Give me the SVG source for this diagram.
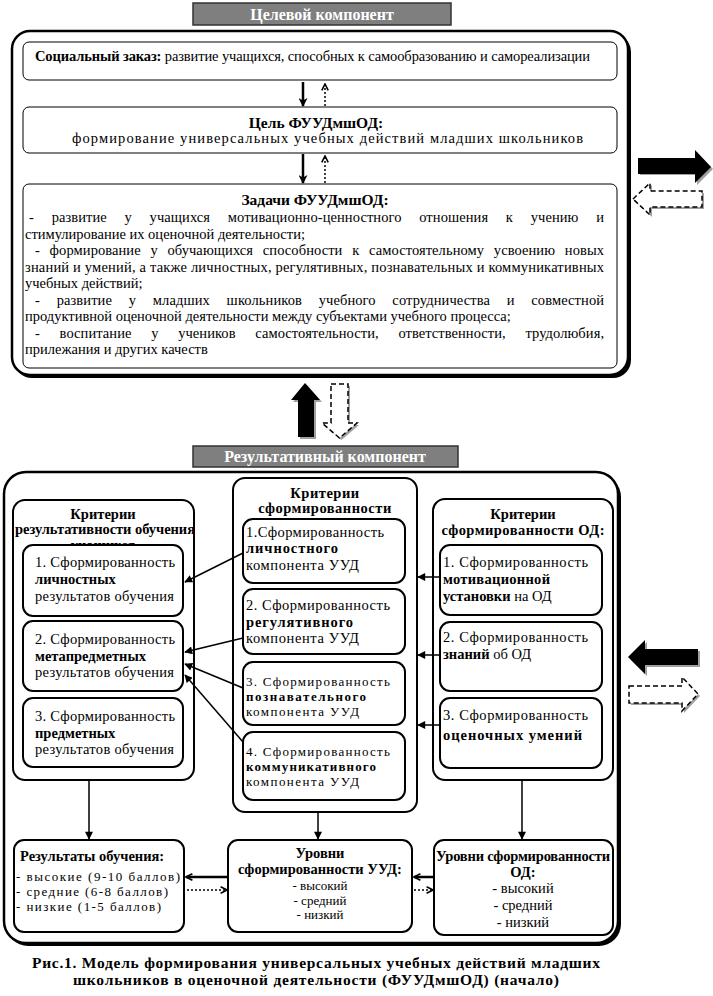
<svg xmlns="http://www.w3.org/2000/svg" width="713" height="996" viewBox="0 0 713 996">
<style>
text{font-family:"Liberation Serif","Times New Roman",serif;fill:#000;font-size:14.5px}
.b{font-weight:bold}
.m{text-anchor:middle}
.s{font-size:13px}
.box1{fill:#fff;stroke:#000;stroke-width:1}
.box2{fill:#fff;stroke:#000;stroke-width:2}
.outer{fill:#fff;stroke:#000;stroke-width:2.5}
.shadow{fill:#000}
.banner{fill:#7f7f7f;stroke:#333;stroke-width:1.5}
.bt{fill:#fff;font-weight:bold;font-size:16px;text-anchor:middle}
.c{stroke:#000;stroke-width:1.5;fill:none}
.ct{stroke:#000;stroke-width:2.5;fill:none}
.dot{stroke:#000;stroke-width:1.5;stroke-dasharray:2 2;fill:none}
.blk{fill:#000}
.sh{fill:#a0a0a0}
.dsh{fill:#fff;stroke:#000;stroke-width:1.5;stroke-dasharray:5 3}
.cap{font-weight:bold;font-size:15.5px;text-anchor:middle}
</style>
<defs>
<marker id="ah" viewBox="0 0 10 10" refX="9" refY="5" markerWidth="9" markerHeight="8" markerUnits="userSpaceOnUse" orient="auto">
<path d="M0,0 L10,5 L0,10 Z" fill="#000"/>
</marker>
<marker id="ahb" viewBox="0 0 10 10" refX="9" refY="5" markerWidth="10" markerHeight="9" markerUnits="userSpaceOnUse" orient="auto">
<path d="M0,0 L10,5 L0,10 L3,5 Z" fill="#000"/>
</marker>
<marker id="aho" viewBox="0 0 10 10" refX="9" refY="5" markerWidth="8" markerHeight="8" markerUnits="userSpaceOnUse" orient="auto">
<path d="M1,1 L9,5 L1,9" fill="none" stroke="#000" stroke-width="2"/>
</marker>
</defs>

<!-- ===== Target component ===== -->
<g id="banner-target">
<rect class="banner" x="193" y="3" width="258" height="22"/>
<text class="bt" x="322" y="20">Целевой компонент</text>
</g>

<g id="target-component">
<rect class="shadow" x="14" y="34" width="617" height="344" rx="18"/>
<rect class="outer" x="12" y="31" width="616" height="344" rx="18"/>
</g>

<g id="social-order">
<rect class="box1" x="23" y="42" width="594" height="38" rx="6"/>
<text x="35" y="61" textLength="555" lengthAdjust="spacing"><tspan class="b">Социальный заказ:</tspan> развитие учащихся, способных к самообразованию и самореализации</text>
</g>

<g id="goal">
<rect class="box1" x="23" y="107" width="594" height="46" rx="6"/>
<text class="b m" x="316" y="128" style="font-size:15.5px">Цель ФУУДмшОД:</text>
<text x="72" y="143" textLength="511" lengthAdjust="spacing">формирование универсальных учебных действий младших школьников</text>
</g>

<g id="tasks">
<rect class="box1" x="23" y="184" width="594" height="184" rx="6"/>
<text class="b m" x="315" y="205" style="font-size:15.5px">Задачи ФУУДмшОД:</text>
<text x="29" y="222" style="word-spacing:14px" textLength="575" lengthAdjust="spacing">- развитие у учащихся мотивационно-ценностного отношения к учению и</text>
<text x="25" y="238.5">стимулирование их оценочной деятельности;</text>
<text x="35" y="255" style="word-spacing:6px" textLength="569" lengthAdjust="spacing">- формирование у обучающихся способности к самостоятельному усвоению новых</text>
<text x="25" y="271.5" textLength="579" lengthAdjust="spacing">знаний и умений, а также личностных, регулятивных, познавательных и коммуникативных</text>
<text x="25" y="288">учебных действий;</text>
<text x="35" y="304.5" style="word-spacing:13px" textLength="569" lengthAdjust="spacing">- развитие у младших школьников учебного сотрудничества и совместной</text>
<text x="25" y="321">продуктивной оценочной деятельности между субъектами учебного процесса;</text>
<text x="35" y="337.5" style="word-spacing:16px" textLength="569" lengthAdjust="spacing">- воспитание у учеников самостоятельности, ответственности, трудолюбия,</text>
<text x="25" y="354">прилежания и других качеств</text>
</g>

<!-- block arrows, upper right -->
<g id="arrow-right-black">
<path class="sh" d="M640,160 H697 V152 L713,169 L697,185 V175 H640 Z"/>
<path class="blk" d="M638,158 H695 V150 L711,167 L695,183 V174 H638 Z"/>
</g>
<g id="arrow-left-dashed">
<path class="sh" d="M635,201 L652,185 V193 H704 V209 H652 V217 Z"/>
<path class="dsh" d="M633,199 L650,183 V191 H702 V207 H650 V215 Z"/>
</g>

<!-- block arrows between components -->
<g id="arrow-up-black">
<path class="sh" d="M307,385 L322,402 H316 V439 H300 V402 H293 Z"/>
<path class="blk" d="M305,383 L320,400 H314 V437 H298 V400 H291 Z"/>
</g>
<g id="arrow-down-dashed">
<path class="sh" d="M333,386 H350 V425 H359 L341.5,440 L324,425 H333 Z"/>
<path class="dsh" d="M331,384 H348 V423 H357 L339.5,438 L322,423 H331 Z"/>
</g>

<!-- ===== Result component ===== -->
<g id="banner-result">
<rect class="banner" x="193" y="446" width="265" height="21"/>
<text class="bt" x="325" y="462">Результативный компонент</text>
</g>

<g id="result-component">
<rect class="shadow" x="6" y="475" width="615" height="471" rx="22"/>
<rect class="outer" x="4" y="472" width="614" height="471" rx="22"/>
</g>

<!-- left column -->
<g id="criteria-learning">
<rect class="box2" x="13" y="500" width="181" height="280" rx="12"/>
<text class="b m" x="103" y="519">Критерии</text>
<text class="b" x="15" y="534" textLength="180" lengthAdjust="spacing">результативности обучения</text>
<text class="b m" x="103" y="550">учащихся</text>
</g>
<g id="crit-l1">
<rect class="box2" x="23" y="545" width="160" height="71" rx="10"/>
<text x="35" y="567" textLength="140" lengthAdjust="spacing">1.  Сформированность</text>
<text class="b" x="35" y="584">личностных</text>
<text x="35" y="601" textLength="139" lengthAdjust="spacing">результатов обучения</text>
</g>
<g id="crit-l2">
<rect class="box2" x="23" y="621" width="160" height="70" rx="10"/>
<text x="35" y="644" textLength="140" lengthAdjust="spacing">2.  Сформированность</text>
<text class="b" x="35" y="661">метапредметных</text>
<text x="35" y="677" textLength="139" lengthAdjust="spacing">результатов обучения</text>
</g>
<g id="crit-l3">
<rect class="box2" x="23" y="698" width="160" height="69" rx="10"/>
<text x="35" y="721" textLength="140" lengthAdjust="spacing">3.  Сформированность</text>
<text class="b" x="35" y="738">предметных</text>
<text x="35" y="754" textLength="139" lengthAdjust="spacing">результатов обучения</text>
</g>

<!-- center column -->
<g id="criteria-uud">
<rect class="box2" x="233" y="478" width="184" height="334" rx="12"/>
<text class="b m" x="325" y="498" style="letter-spacing:0.5px">Критерии</text>
<text class="b m" x="325" y="513" style="letter-spacing:0.5px">сформированности</text>
</g>
<g id="crit-c1">
<rect class="box2" x="243" y="519" width="162" height="64" rx="10"/>
<text x="246" y="537" textLength="138" lengthAdjust="spacing">1.Сформированность</text>
<text class="b" x="246" y="553" textLength="92" lengthAdjust="spacing">личностного</text>
<text x="246" y="570" textLength="113" lengthAdjust="spacing">компонента УУД</text>
</g>
<g id="crit-c2">
<rect class="box2" x="243" y="589" width="162" height="65" rx="10"/>
<text x="246" y="610" textLength="144" lengthAdjust="spacing">2.  Сформированность</text>
<text class="b" x="246" y="627" textLength="107" lengthAdjust="spacing">регулятивного</text>
<text x="246" y="643" textLength="113" lengthAdjust="spacing">компонента УУД</text>
</g>
<g id="crit-c3">
<rect class="box2" x="243" y="662" width="162" height="63" rx="10"/>
<text class="s" x="246" y="686" textLength="144" lengthAdjust="spacing">3.  Сформированность</text>
<text class="b s" x="246" y="701" textLength="120" lengthAdjust="spacing">познавательного</text>
<text class="s" x="246" y="716" textLength="113" lengthAdjust="spacing">компонента УУД</text>
</g>
<g id="crit-c4">
<rect class="box2" x="243" y="732" width="162" height="68" rx="10"/>
<text class="s" x="246" y="756" textLength="144" lengthAdjust="spacing">4.  Сформированность</text>
<text class="b s" x="246" y="771" textLength="130" lengthAdjust="spacing">коммуникативного</text>
<text class="s" x="246" y="786" textLength="113" lengthAdjust="spacing">компонента УУД</text>
</g>

<!-- right column -->
<g id="criteria-od">
<rect class="box2" x="433" y="499" width="180" height="281" rx="12"/>
<text class="b m" x="523" y="519">Критерии</text>
<text class="b m" x="523" y="535" textLength="163" lengthAdjust="spacing">сформированности ОД:</text>
</g>
<g id="crit-r1">
<rect class="box2" x="440" y="545" width="162" height="70" rx="10"/>
<text x="443" y="567" textLength="145" lengthAdjust="spacing">1.  Сформированность</text>
<text class="b" x="443" y="584" textLength="107" lengthAdjust="spacing">мотивационной</text>
<text x="443" y="601"><tspan class="b">установки</tspan> на ОД</text>
</g>
<g id="crit-r2">
<rect class="box2" x="440" y="622" width="162" height="69" rx="10"/>
<text x="443" y="642" textLength="145" lengthAdjust="spacing">2.  Сформированность</text>
<text x="443" y="659"><tspan class="b">знаний</tspan> об ОД</text>
</g>
<g id="crit-r3">
<rect class="box2" x="440" y="698" width="162" height="70" rx="10"/>
<text x="443" y="720" textLength="145" lengthAdjust="spacing">3.  Сформированность</text>
<text class="b" x="443" y="740" textLength="139" lengthAdjust="spacing">оценочных умений</text>
</g>

<!-- bottom row -->
<g id="results">
<rect class="box2" x="14" y="840" width="170" height="92" rx="10"/>
<text class="b" x="20" y="861">Результаты обучения:</text>
<text class="s" x="16" y="881" textLength="164" lengthAdjust="spacing">- высокие (9-10 баллов)</text>
<text class="s" x="16" y="896" textLength="152" lengthAdjust="spacing">- средние (6-8 баллов)</text>
<text class="s" x="16" y="911" textLength="145" lengthAdjust="spacing">- низкие (1-5 баллов)</text>
</g>
<g id="levels-uud">
<rect class="box2" x="228" y="840" width="184" height="92" rx="10"/>
<text class="b m" x="320" y="858">Уровни</text>
<text class="b m" x="320" y="874">сформированности УУД:</text>
<text class="m s" x="320" y="890">- высокий</text>
<text class="m s" x="320" y="904.5">- средний</text>
<text class="m s" x="320" y="919">- низкий</text>
</g>
<g id="levels-od">
<rect class="box2" x="434" y="840" width="179" height="95" rx="10"/>
<text class="b m" x="523" y="861" textLength="174" lengthAdjust="spacing">Уровни сформированности</text>
<text class="b m" x="523" y="877">ОД:</text>
<text class="m" x="523" y="893">- высокий</text>
<text class="m" x="523" y="910">- средний</text>
<text class="m" x="523" y="927">- низкий</text>
</g>

<!-- block arrows lower right -->
<g id="arrow-left-black">
<path class="sh" d="M630,659 L647,642 V651 H700 V667 H647 V676 Z"/>
<path class="blk" d="M628,657 L645,640 V649 H698 V665 H645 V674 Z"/>
</g>
<g id="arrow-right-dashed">
<path class="sh" d="M631,688 H684 V679 L700,696 L684,713 V705 H631 Z"/>
<path class="dsh" d="M629,686 H682 V677 L698,694 L682,711 V703 H629 Z"/>
</g>

<!-- connectors -->
<g id="connectors">
<line class="ct" x1="303" y1="82" x2="303" y2="106" marker-end="url(#ahb)"/>
<line class="dot" x1="325" y1="106" x2="325" y2="84" marker-end="url(#aho)"/>
<line class="ct" x1="303" y1="154" x2="303" y2="183" marker-end="url(#ahb)"/>
<line class="dot" x1="325" y1="183" x2="325" y2="156" marker-end="url(#aho)"/>

<line class="c" x1="243" y1="553" x2="185" y2="582" marker-end="url(#ah)"/>
<line class="c" x1="243" y1="638" x2="185" y2="652" marker-end="url(#ah)"/>
<line class="c" x1="243" y1="688" x2="185" y2="664" marker-end="url(#ah)"/>
<line class="c" x1="243" y1="742" x2="185" y2="675" marker-end="url(#ah)"/>

<line class="c" x1="440" y1="577" x2="418" y2="577" marker-end="url(#ah)"/>
<line class="c" x1="440" y1="655" x2="418" y2="655" marker-end="url(#ah)"/>
<line class="c" x1="440" y1="725" x2="418" y2="725" marker-end="url(#ah)"/>

<line class="c" x1="89" y1="781" x2="89" y2="839" marker-end="url(#ah)"/>
<line class="c" x1="318" y1="813" x2="318" y2="839" marker-end="url(#ah)"/>
<line class="c" x1="522" y1="781" x2="522" y2="839" marker-end="url(#ah)"/>

<line class="ct" x1="228" y1="877" x2="186" y2="877" marker-end="url(#aho)"/>
<line class="dot" x1="187" y1="890" x2="227" y2="890" marker-end="url(#aho)"/>
<line class="ct" x1="434" y1="877" x2="414" y2="877" marker-end="url(#aho)"/>
<line class="dot" x1="414" y1="890" x2="433" y2="890" marker-end="url(#aho)"/>
</g>

<g id="caption">
<text class="cap" x="316" y="968" textLength="568" lengthAdjust="spacing">Рис.1. Модель формирования универсальных учебных действий младших</text>
<text class="cap" x="316" y="985" textLength="486" lengthAdjust="spacing">школьников в оценочной деятельности (ФУУДмшОД) (начало)</text>
</g>
</svg>
